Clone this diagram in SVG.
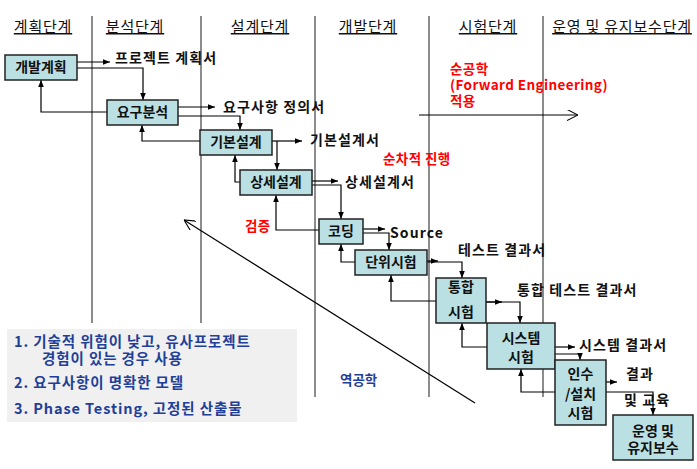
<svg xmlns="http://www.w3.org/2000/svg" width="697" height="469" viewBox="0 0 697 469">
<defs>
<marker id="a" viewBox="0 0 10 10" refX="10" refY="5" markerWidth="7" markerHeight="7" orient="auto" markerUnits="userSpaceOnUse"><path d="M0,1 L10,5 L0,9 z" fill="#000"/></marker>
<marker id="o" viewBox="0 0 10 10" refX="10" refY="5" markerWidth="11" markerHeight="11" orient="auto" markerUnits="userSpaceOnUse"><path d="M0,0 L10,5 L0,10" fill="none" stroke="#000" stroke-width="1"/></marker>
</defs>
<style>
text{font-family:"Noto Sans CJK KR","Noto Sans",sans-serif}
.hd{font-size:15px;fill:#111;text-decoration:underline;text-anchor:middle;letter-spacing:0.8px}
.bx rect{fill:#BBE0E3;stroke:#222;stroke-width:1.5}
.bx text{font-size:14px;font-weight:bold;fill:#111;text-anchor:middle}
.lb{font-size:14px;font-weight:bold;fill:#111;letter-spacing:1.1px}
.red{font-size:13.5px;font-weight:bold;fill:#FF0000;letter-spacing:0.4px}
.blue{font-size:13.5px;font-weight:bold;fill:#1F3F99}
.nt{font-size:14.5px;font-weight:bold;fill:#1F3F99;letter-spacing:0.9px}
.col{stroke:#666;stroke-width:1.5}
.cn path{fill:none;stroke:#000;stroke-width:1.2}
</style>
<rect width="697" height="469" fill="#fff"/>
<g id="columns">
<line class="col" x1="92" y1="16" x2="92" y2="323"/>
<line class="col" x1="201" y1="16" x2="201" y2="323"/>
<line class="col" x1="315" y1="16" x2="315" y2="397"/>
<line class="col" x1="429" y1="16" x2="429" y2="397"/>
<line class="col" x1="543" y1="16" x2="543" y2="397"/>
</g>
<g id="headers">
<text class="hd" x="43" y="32">계획단계</text>
<text class="hd" x="135" y="32">분석단계</text>
<text class="hd" x="260" y="32">설계단계</text>
<text class="hd" x="368" y="32">개발단계</text>
<text class="hd" x="488" y="32">시험단계</text>
<text class="hd" x="622" y="32">운영 및 유지보수단계</text>
</g>
<rect x="7" y="329" width="290" height="93" fill="#F0F0F0"/>
<g id="notes">
<text class="nt" x="14" y="347">1. 기술적 위험이 낮고, 유사프로젝트</text>
<text class="nt" x="42" y="364">경험이 있는 경우 사용</text>
<text class="nt" x="14" y="388">2. 요구사항이 명확한 모델</text>
<text class="nt" x="14" y="414">3. Phase Testing, 고정된 산출물</text>
</g>
<g id="connectors" class="cn">
<path d="M77,62 H110" marker-end="url(#a)"/>
<path d="M77,68 H143 V100" marker-end="url(#a)"/>
<path d="M107,112 H41 V80" marker-end="url(#a)"/>
<path d="M178,107 H215" marker-end="url(#a)"/>
<path d="M178,116 H240 V130" marker-end="url(#a)"/>
<path d="M200,141 H142 V125" marker-end="url(#a)"/>
<path d="M272,141 H302" marker-end="url(#a)"/>
<path d="M277,141 V170" marker-end="url(#a)"/>
<path d="M240,182 H235 V155" marker-end="url(#a)"/>
<path d="M312,181 H338" marker-end="url(#a)"/>
<path d="M312,185 H341 V219" marker-end="url(#a)"/>
<path d="M319,230 H276 V195" marker-end="url(#a)"/>
<path d="M363,229 H385" marker-end="url(#a)"/>
<path d="M363,233 H389 V250" marker-end="url(#a)"/>
<path d="M355,262 H341 V244" marker-end="url(#a)"/>
<path d="M427,261 H438" marker-end="url(#a)"/>
<path d="M427,262 H462 V278" marker-end="url(#a)"/>
<path d="M436,301 H391 V275" marker-end="url(#a)"/>
<path d="M486,302 H502" marker-end="url(#a)"/>
<path d="M486,302 H520 V323" marker-end="url(#a)"/>
<path d="M487,347 H462 V323" marker-end="url(#a)"/>
<path d="M555,347 H575" marker-end="url(#a)"/>
<path d="M555,354 H580 V360" marker-end="url(#a)"/>
<path d="M555,392 H521 V369" marker-end="url(#a)"/>
<path d="M606,382 H617" marker-end="url(#a)"/>
<path d="M606,392 H653 V415" marker-end="url(#a)"/>
<path d="M419,115 H578" marker-end="url(#o)" stroke-width="1"/>
<path d="M475,403 L184,220" marker-end="url(#o)" stroke-width="1"/>
</g>
<g id="n1" class="bx"><rect x="5" y="55" width="72" height="25"/><text x="41" y="72">개발계획</text></g>
<g id="n2" class="bx"><rect x="107" y="100" width="71" height="25"/><text x="142.5" y="117">요구분석</text></g>
<g id="n3" class="bx"><rect x="200" y="130" width="72" height="25"/><text x="236" y="147">기본설계</text></g>
<g id="n4" class="bx"><rect x="240" y="170" width="72" height="25"/><text x="276" y="187">상세설계</text></g>
<g id="n5" class="bx"><rect x="319" y="219" width="44" height="25"/><text x="341" y="236">코딩</text></g>
<g id="n6" class="bx"><rect x="355" y="250" width="72" height="25"/><text x="391" y="267">단위시험</text></g>
<g id="n7" class="bx"><rect x="436" y="278" width="50" height="45"/><text x="461" y="292">통합</text><text x="461" y="317">시험</text></g>
<g id="n8" class="bx"><rect x="487" y="323" width="68" height="46"/><text x="521" y="343">시스템</text><text x="521" y="362">시험</text></g>
<g id="n9" class="bx"><rect x="555" y="360" width="51" height="65"/><text x="580.5" y="379">인수</text><text x="580.5" y="399">/설치</text><text x="580.5" y="418">시험</text></g>
<g id="n10" class="bx"><rect x="613" y="415" width="80" height="45"/><text x="653" y="436">운영 및</text><text x="653" y="453">유지보수</text></g>
<g id="labels">
<text class="lb" x="115" y="63">프로젝트 계획서</text>
<text class="lb" x="223" y="112">요구사항 정의서</text>
<text class="lb" x="310" y="145">기본설계서</text>
<text class="lb" x="345" y="187">상세설계서</text>
<text class="lb" x="390" y="238" letter-spacing="0">Source</text>
<text class="lb" x="458" y="255">테스트 결과서</text>
<text class="lb" x="517" y="295">통합 테스트 결과서</text>
<text class="lb" x="579" y="350">시스템 결과서</text>
<text class="lb" x="626" y="379">결과</text>
<text class="lb" x="624" y="405">및 교육</text>
<text class="red" x="450" y="74">순공학</text>
<text class="red" x="450" y="90" letter-spacing="0.2">(Forward Engineering)</text>
<text class="red" x="450" y="106">적용</text>
<text class="red" x="383" y="164" font-size="14" letter-spacing="1">순차적 진행</text>
<text class="red" x="245" y="231">검증</text>
<text class="blue" x="340" y="385">역공학</text>
</g>
</svg>
